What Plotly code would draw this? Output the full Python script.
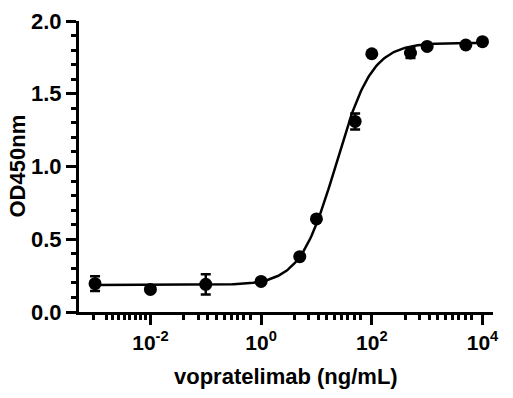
import numpy as np
import plotly.graph_objects as go

# Data
conc = [0.001, 0.01, 0.1, 1, 5, 10, 50, 100, 500, 1000, 5000, 10000]
od450 = [0.195, 0.155, 0.19, 0.21, 0.38, 0.64, 1.31, 1.775, 1.78, 1.825, 1.835, 1.858]
od_err = [0.05, 0.0, 0.07, 0.0, 0.0, 0.0, 0.055, 0.0, 0.035, 0.0, 0.0, 0.0]

# 4PL fit parameters
fit_bottom = 0.185
fit_top = 1.85
fit_ec50 = 22.6
fit_hill = 1.34

x_tickvals = [1e-2, 1, 1e2, 1e4]
x_ticktext = ["10<sup>-2</sup>", "10<sup>0</sup>", "10<sup>2</sup>", "10<sup>4</sup>"]
y_tickvals = [0.0, 0.5, 1.0, 1.5, 2.0]
y_ticktext = ["0.0", "0.5", "1.0", "1.5", "2.0"]
# minor tick exponents (log10) as seen on the reference axis
x_minor_exp = [-3.02, -2.80, -2.68, -2.58, -2.47, -2.37, -2.27, -2.18, -2.08]
minor_pattern = [0.6, 0.86, 1.04, 1.19, 1.33, 1.46, 1.57, 1.69, 1.8]
for base in (-2, 0, 2):
    x_minor_exp += [base + p for p in minor_pattern]
x_minor_vals = [10 ** e for e in x_minor_exp]
y_minor_vals = [0.1, 0.2, 0.3, 0.4, 0.6, 0.7, 0.8, 0.9, 1.1, 1.2, 1.3, 1.4, 1.6, 1.7, 1.8, 1.9]

xc = np.logspace(np.log10(conc[0]), np.log10(conc[-1]), 300)
yc = fit_bottom + (fit_top - fit_bottom) / (1 + (fit_ec50 / xc) ** fit_hill)

font_family = "Arial, Liberation Sans, Helvetica, sans-serif"

# plot area geometry (page body margin removed below)
L, T, PW, PH = 79, 21, 414, 291

fig = go.Figure()
fig.add_trace(go.Scatter(x=xc, y=yc, mode="lines",
                         line=dict(color="black", width=2.5), showlegend=False,
                         hoverinfo="skip"))
fig.add_trace(go.Scatter(x=conc, y=od450, mode="markers",
                         marker=dict(color="black", size=13),
                         error_y=dict(type="data", array=od_err, visible=True,
                                      color="black", thickness=2.5, width=5),
                         showlegend=False))

fig.update_layout(
    width=513, height=398,
    margin=dict(l=L, r=513 - L - PW, t=T, b=398 - T - PH, autoexpand=False),
    paper_bgcolor="white", plot_bgcolor="white",
    font=dict(family=font_family, color="black", size=20, weight="bold"),
    annotations=[
        dict(text="OD450nm", xref="paper", yref="paper", x=(17 - L) / PW, y=0.5,
             xanchor="center", yanchor="middle", textangle=-90, showarrow=False,
             font=dict(size=22, family=font_family, weight="bold")),
        dict(text="vopratelimab (ng/mL)", xref="paper", yref="paper", x=0.5,
             y=-(376 - T - PH) / PH, xanchor="center", yanchor="middle", showarrow=False,
             font=dict(size=22, family=font_family, weight="bold")),
    ],
)
fig.update_xaxes(
    type="log", range=[-3.29, 4.19], automargin=False,
    showline=True, linecolor="black", linewidth=3,
    showgrid=False, zeroline=False,
    tickmode="array", tickvals=x_tickvals, ticktext=x_ticktext,
    ticks="outside", ticklen=10, tickwidth=2.5, tickcolor="black",
    tickfont=dict(size=21, family=font_family, weight="bold"),
    minor=dict(tickmode="array", tickvals=x_minor_vals, ticks="outside",
               ticklen=5, tickwidth=2.5, tickcolor="black", showgrid=False),
)
fig.update_yaxes(
    range=[0, 2], automargin=False,
    showline=True, linecolor="black", linewidth=3,
    showgrid=False, zeroline=False,
    tickmode="array", tickvals=y_tickvals, ticktext=y_ticktext,
    ticks="outside", ticklen=10, tickwidth=2.5, tickcolor="black",
    tickfont=dict(size=22, family=font_family, weight="bold"),
    minor=dict(tickmode="array", tickvals=y_minor_vals, ticks="outside",
               ticklen=5, tickwidth=2.5, tickcolor="black", showgrid=False),
)

fig.write_html("out.html", config={"displayModeBar": False},
               post_script="document.body.style.margin='0';")
